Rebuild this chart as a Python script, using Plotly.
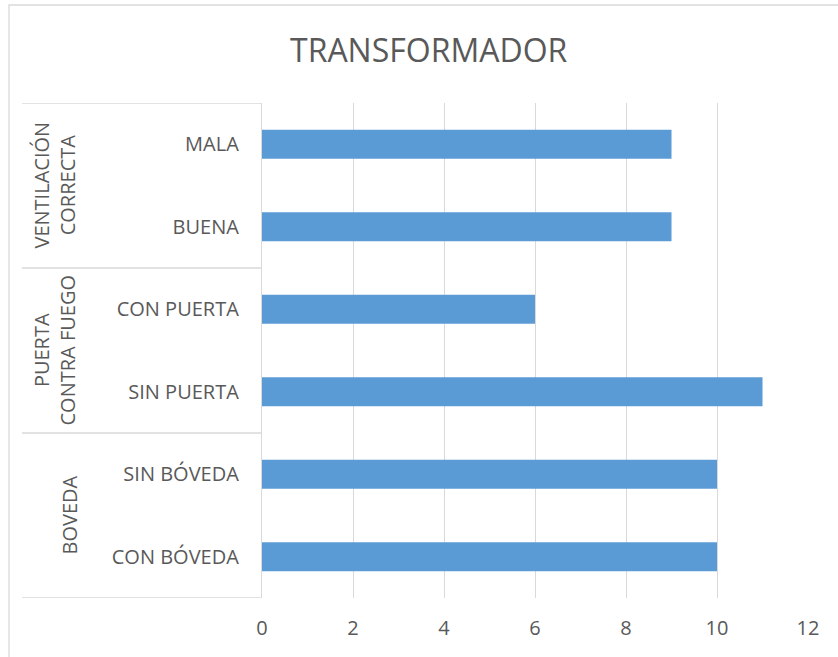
import plotly.graph_objects as go

# Data (bottom to top)
groups = ["BOVEDA", "PUERTA<br>CONTRA FUEGO", "VENTILACIÓN<br>CORRECTA"]
categories = ["CON BÓVEDA", "SIN BÓVEDA", "SIN PUERTA", "CON PUERTA", "BUENA", "MALA"]
values = [10, 10, 11, 6, 9, 9]
group_sizes = [2, 2, 2]
x_ticks = [0, 2, 4, 6, 8, 10, 12]

W, H = 838, 657
L, R, T, B = 262, 808, 103, 598

def px_x(p):
    return (p - L) / (R - L)

def px_y(p):
    return (B - p) / (B - T)

FONT = "Open Sans"
GRAY = "#595959"
LINE = "#D9D9D9"

fig = go.Figure()
fig.add_trace(go.Bar(
    x=values,
    y=list(range(len(categories))),
    orientation="h",
    marker=dict(color="#5B9BD5", line=dict(width=0)),
    width=0.35,
    hoverinfo="x",
))

shapes = []
# outer chart border
shapes.append(dict(type="rect", xref="paper", yref="paper",
                   x0=px_x(9), x1=px_x(850), y0=px_y(668), y1=px_y(5),
                   line=dict(color="#D9D9D9", width=1.3), layer="below"))
# group separators on category axis
start = -0.5
bounds = [start]
for s in group_sizes:
    start += s
    bounds.append(start)
for b in bounds:
    shapes.append(dict(type="line", xref="paper", yref="y",
                       x0=px_x(22), x1=0, y0=b, y1=b,
                       line=dict(color=LINE, width=1.3)))

annotations = []
group_x = [69, 54, 54]
for i, g in enumerate(groups):
    mid = (bounds[i] + bounds[i + 1]) / 2
    annotations.append(dict(
        text=g, xref="paper", yref="y", x=px_x(group_x[i]), y=mid,
        textangle=-90, showarrow=False, xanchor="center", yanchor="middle",
        font=dict(family=FONT, size=20, color=GRAY), align="center"))

annotations.append(dict(
    text="TRANSFORMADOR", xref="paper", yref="paper",
    x=px_x(429), y=px_y(50), showarrow=False,
    xanchor="center", yanchor="middle",
    font=dict(family=FONT, size=32, color=GRAY)))

fig.update_layout(
    width=W, height=H,
    margin=dict(l=L, r=W - R, t=T, b=H - B),
    plot_bgcolor="white", paper_bgcolor="white",
    showlegend=False,
    shapes=shapes,
    annotations=annotations,
    xaxis=dict(range=[0, 12], tickvals=x_ticks, showgrid=True,
               gridcolor=LINE, gridwidth=1.3, zeroline=False,
               showline=False, ticks="",
               tickfont=dict(family=FONT, size=20, color=GRAY),
               ticklabelstandoff=16, fixedrange=True),
    yaxis=dict(range=[-0.5, len(categories) - 0.5],
               tickvals=list(range(len(categories))), ticktext=categories,
               showgrid=False, zeroline=False,
               showline=True, linecolor=LINE, linewidth=1.3,
               ticks="", ticklabelstandoff=18,
               tickfont=dict(family=FONT, size=20, color=GRAY),
               fixedrange=True),
    bargap=0.65,
)

fig.write_html("out.html", config={"displayModeBar": False},
               post_script="document.body.style.margin='0';document.body.style.overflow='hidden';")
